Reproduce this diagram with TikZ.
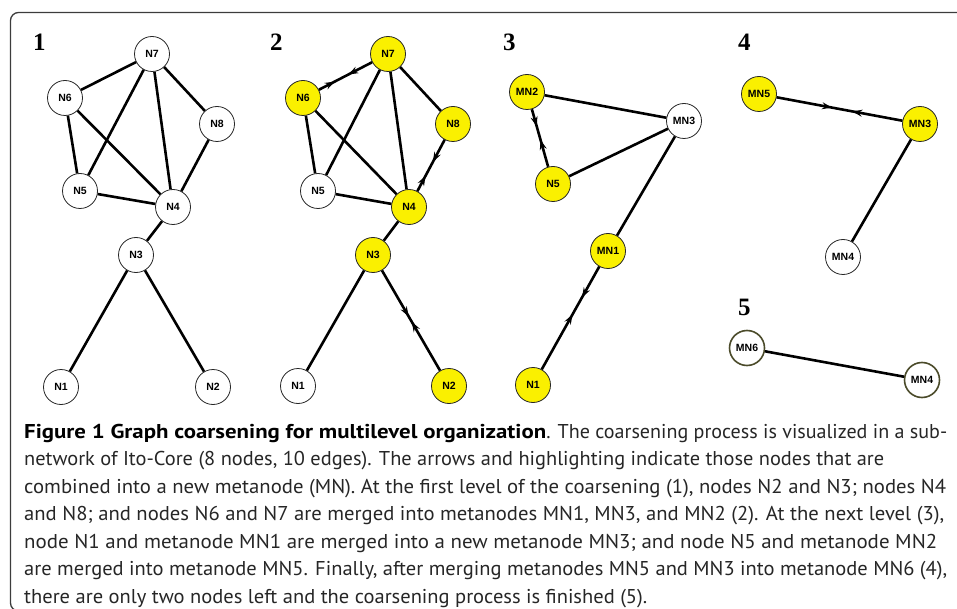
\documentclass[tikz,border=0pt]{standalone}
\usepackage{fontspec}
\usepackage{graphicx}
\setmainfont{Liberation Serif}
\newfontfamily\nodefont{Liberation Sans}
\newfontfamily\capfont{PT Sans}
\usetikzlibrary{arrows.meta,decorations.markings}
\definecolor{nodeyellow}{RGB}{250,240,0}
\definecolor{olivering}{RGB}{75,75,42}
\definecolor{framegray}{RGB}{60,60,60}
\newlength\capnatwidth
\settowidth\capnatwidth{\capfont\fontsize{20}{24}\selectfont are merged into metanode MN5. Finally, after merging metanodes MN5 and MN3 into metanode MN6 (4),}
\pgfmathsetmacro\capratio{923/\capnatwidth}
\tikzset{
  gnode/.style={circle, draw=black!85, line width=0.8pt, fill=white, minimum size=35pt, inner sep=0pt,
    font=\nodefont\bfseries\fontsize{10.5}{10.5}\selectfont},
  hl/.style={fill=nodeyellow},
  fin/.style={draw=olivering, line width=1.6pt},
  edge/.style={line width=2.6pt, black},
  merge/.style 2 args={edge, decoration={markings,
      mark=at position #1 with {\arrow{Stealth[length=10pt, width=7pt, inset=3.5pt]}},
      mark=at position #2 with {\arrow{Stealth[length=10pt, width=7pt, inset=3.5pt, reversed]}}}, postaction={decorate}},
  panelnum/.style={anchor=base west, inner sep=0pt, font=\bfseries\fontsize{25}{25}\selectfont},
  capline/.style={anchor=base west, inner sep=0pt, text=black!85, font=\capfont\fontsize{20}{24}\selectfont},
}
\begin{document}
\begin{tikzpicture}[x=1pt, y=-1pt]
\useasboundingbox (0,0) rectangle (957,609);
\clip (0,0) rectangle (957,609);
\draw[framegray, line width=1.3pt, rounded corners=8pt] (1000,611) -- (10.5,611) -- (10.5,12.5) -- (1000,12.5);

% panel numbers
\node[panelnum] (p1) at (33,51) {1};
\node[panelnum] (p2) at (270,51) {2};
\node[panelnum] (p3) at (503,51) {3};
\node[panelnum] (p4) at (738,51) {4};
\node[panelnum] (p5) at (738,315) {5};

% panel 1
\node[gnode] (a7) at (152,54) {N7};
\node[gnode] (a6) at (65,98) {N6};
\node[gnode] (a8) at (217,124) {N8};
\node[gnode] (a5) at (80,191) {N5};
\node[gnode] (a4) at (173,207) {N4};
\node[gnode] (a3) at (136,255) {N3};
\node[gnode] (a1) at (61,387) {N1};
\node[gnode] (a2) at (213,387) {N2};
\draw[edge] (a7) -- (a6);
\draw[edge] (a7) -- (a5);
\draw[edge] (a7) -- (a4);
\draw[edge] (a7) -- (a8);
\draw[edge] (a6) -- (a5);
\draw[edge] (a6) -- (a4);
\draw[edge] (a5) -- (a4);
\draw[edge] (a8) -- (a4);
\draw[edge] (a4) -- (a3);
\draw[edge] (a3) -- (a1);
\draw[edge] (a3) -- (a2);

% panel 2
\node[gnode, hl] (b7) at (388,54) {N7};
\node[gnode, hl] (b6) at (303,98) {N6};
\node[gnode, hl] (b8) at (453,124) {N8};
\node[gnode] (b5) at (318,191) {N5};
\node[gnode, hl] (b4) at (409,207) {N4};
\node[gnode, hl] (b3) at (373,255) {N3};
\node[gnode] (b1) at (298,386) {N1};
\node[gnode, hl] (b2) at (449,386) {N2};
\draw[merge={0.3}{0.72}] (b6) -- (b7);
\draw[edge] (b7) -- (b5);
\draw[edge] (b7) -- (b4);
\draw[edge] (b7) -- (b8);
\draw[edge] (b6) -- (b5);
\draw[edge] (b6) -- (b4);
\draw[edge] (b5) -- (b4);
\draw[merge={0.3}{0.74}] (b4) -- (b8);
\draw[edge] (b4) -- (b3);
\draw[edge] (b3) -- (b1);
\draw[merge={0.46}{0.6}] (b3) -- (b2);

% panel 3
\node[gnode, hl] (c2) at (527,92) {MN2};
\node[gnode] (c3) at (684,121) {MN3};
\node[gnode, hl] (c5) at (553,184) {N5};
\node[gnode, hl] (c1) at (608,251) {MN1};
\node[gnode, hl] (cn1) at (533,385) {N1};
\draw[edge] (c2) -- (c3);
\draw[merge={0.3}{0.7}] (c2) -- (c5);
\draw[edge] (c5) -- (c3);
\draw[edge] (c1) -- (c3);
\draw[merge={0.3}{0.55}] (c1) -- (cn1);

% panel 4
\node[gnode, hl] (d5) at (759,94) {MN5};
\node[gnode, hl] (d3) at (920,124) {MN3};
\node[gnode] (d4) at (843,257) {MN4};
\draw[merge={0.44}{0.68}] (d5) -- (d3);
\draw[edge] (d3) -- (d4);

% panel 5
\node[gnode, fin] (e6) at (747,348) {MN6};
\node[gnode, fin] (e4) at (922,380) {MN4};
\draw[edge] (e6) -- (e4);

% caption
\node[capline] (cap1) at (24,438) {\resizebox{522pt}{\height}{\textbf{\color{black}Figure 1 Graph coarsening for multilevel organization}}\resizebox{401pt}{\height}{. The coarsening process is visualized in a sub-}};
\node[capline] (cap2) at (24,465.5) {\resizebox{860pt}{\height}{network of Ito-Core (8 nodes, 10 edges). The arrows and highlighting indicate those nodes that are}};
\node[capline] (cap3) at (24,493) {\resizebox{922pt}{\height}{combined into a new metanode (MN). At the first level of the coarsening (1), nodes N2 and N3; nodes N4}};
\node[capline] (cap4) at (24,520.5) {\resizebox{920pt}{\height}{and N8; and nodes N6 and N7 are merged into metanodes MN1, MN3, and MN2 (2). At the next level (3),}};
\node[capline] (cap5) at (24,548) {\resizebox{913pt}{\height}{node N1 and metanode MN1 are merged into a new metanode MN3; and node N5 and metanode MN2}};
\node[capline] (cap6) at (24,575.5) {\resizebox{923pt}{\height}{are merged into metanode MN5. Finally, after merging metanodes MN5 and MN3 into metanode MN6 (4),}};
\node[capline] (cap7) at (24,603) {\scalebox{\capratio}[1]{there are only two nodes left and the coarsening process is finished (5).}};
\end{tikzpicture}
\end{document}
